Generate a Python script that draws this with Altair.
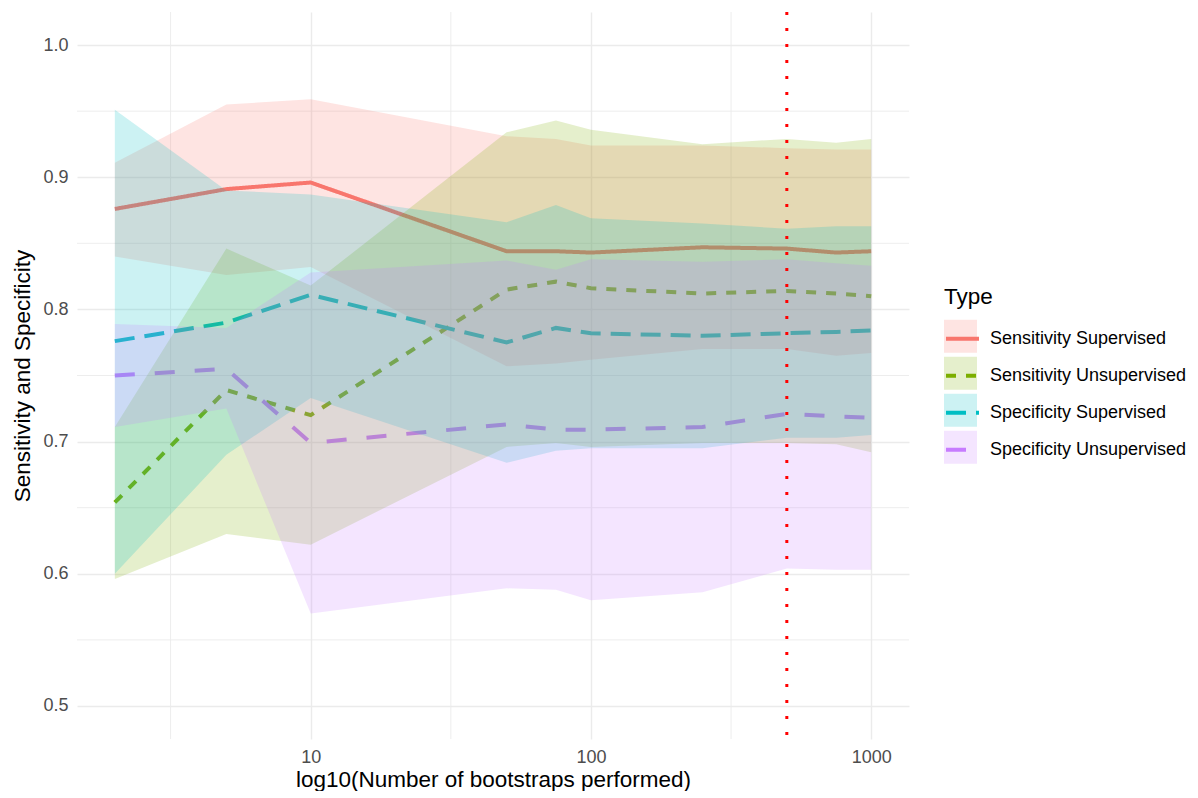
import altair as alt
import pandas as pd

# ---- data ----
boots = [2, 5, 10, 50, 75, 100, 250, 500, 750, 1000]
types = ["Sensitivity Supervised", "Sensitivity Unsupervised",
         "Specificity Supervised", "Specificity Unsupervised"]

sens_sup = [0.876, 0.891, 0.896, 0.844, 0.844, 0.843, 0.847, 0.846, 0.843, 0.844]
sens_sup_lo = [0.840, 0.826, 0.832, 0.757, 0.759, 0.762, 0.770, 0.770, 0.765, 0.767]
sens_sup_hi = [0.911, 0.955, 0.959, 0.931, 0.929, 0.924, 0.924, 0.922, 0.921, 0.921]

sens_unsup = [0.654, 0.739, 0.720, 0.815, 0.821, 0.816, 0.812, 0.814, 0.812, 0.810]
sens_unsup_lo = [0.596, 0.630, 0.622, 0.696, 0.699, 0.696, 0.699, 0.699, 0.698, 0.692]
sens_unsup_hi = [0.711, 0.846, 0.818, 0.934, 0.943, 0.936, 0.925, 0.929, 0.926, 0.929]

spec_sup = [0.776, 0.790, 0.811, 0.775, 0.786, 0.782, 0.780, 0.782, 0.783, 0.784]
spec_sup_lo = [0.600, 0.690, 0.733, 0.684, 0.693, 0.695, 0.695, 0.703, 0.703, 0.705]
spec_sup_hi = [0.951, 0.890, 0.887, 0.866, 0.879, 0.869, 0.865, 0.861, 0.863, 0.863]

spec_unsup = [0.750, 0.755, 0.699, 0.713, 0.709, 0.709, 0.711, 0.721, 0.719, 0.718]
spec_unsup_lo = [0.711, 0.725, 0.570, 0.589, 0.588, 0.580, 0.586, 0.604, 0.603, 0.603]
spec_unsup_hi = [0.789, 0.786, 0.828, 0.837, 0.830, 0.838, 0.836, 0.838, 0.835, 0.833]

chosen_boots = [500]
y_ticks = [0.5, 0.6, 0.7, 0.8, 0.9, 1.0]
y_minor = [0.55, 0.65, 0.75, 0.85, 0.95]
x_ticks = [10, 100, 1000]
x_minor = [10 ** 0.5, 10 ** 1.5, 10 ** 2.5]

colors = ["#F8766D", "#7CAE00", "#00BFC4", "#C77CFF"]
dashes = [[1, 0], [10, 10], [20, 10], [20, 20]]

series = [(sens_sup, sens_sup_lo, sens_sup_hi),
          (sens_unsup, sens_unsup_lo, sens_unsup_hi),
          (spec_sup, spec_sup_lo, spec_sup_hi),
          (spec_unsup, spec_unsup_lo, spec_unsup_hi)]

rows = []
for t, (m, lo, hi) in zip(types, series):
    for b, mv, lv, hv in zip(boots, m, lo, hi):
        rows.append({"Type": t, "boots": b, "mean": mv, "lo": lv, "hi": hv})
df = pd.DataFrame(rows)

FONT = "Liberation Sans"
x_dom = [10 ** 0.16608, 10 ** 3.13495]
y_dom = [0.475, 1.025]

xs = alt.Scale(type="log", domain=x_dom, nice=False, zero=False)
ys = alt.Scale(domain=y_dom, nice=False, zero=False)

x_enc = alt.X("boots:Q", scale=xs,
              axis=alt.Axis(values=x_ticks, format="d",
                            title="log10(Number of bootstraps performed)",
                            grid=True, labelPadding=9, titlePadding=2))
y_enc = alt.Y("mean:Q", scale=ys,
              axis=alt.Axis(values=y_ticks, format=".1f",
                            title="Sensitivity and Specificity",
                            grid=True, labelPadding=9, titlePadding=8))

LEG_X = 867
LEG_Y = 274
ROW_H = 36.7


def legend(**kw):
    base = dict(title="Type", orient="none", legendX=LEG_X, legendY=LEG_Y,
                symbolSize=1089, labelOffset=9, titlePadding=12, rowPadding=0,
                clipHeight=ROW_H, labelLimit=400)
    base.update(kw)
    return alt.Legend(**base)


minor_x = alt.Chart(pd.DataFrame({"v": x_minor})).mark_rule(
    color="#EBEBEB", strokeWidth=0.9).encode(x=alt.X("v:Q", scale=xs))
minor_y = alt.Chart(pd.DataFrame({"v": y_minor})).mark_rule(
    color="#EBEBEB", strokeWidth=0.9).encode(y=alt.Y("v:Q", scale=ys))

lines = alt.Chart(df).mark_line(strokeWidth=4, strokeCap="butt").encode(
    x=x_enc,
    y=y_enc,
    stroke=alt.Stroke("Type:N", scale=alt.Scale(range=colors),
                      legend=legend(symbolType="stroke", symbolStrokeWidth=4)),
    strokeDash=alt.StrokeDash("Type:N", scale=alt.Scale(range=dashes),
                              legend=legend(symbolType="stroke", symbolStrokeWidth=4)),
)

# key backgrounds: a second legend with no title and no label text, under the first
areas = alt.Chart(df).mark_area(opacity=0.2).encode(
    x=alt.X("boots:Q", scale=xs),
    y=alt.Y("lo:Q", scale=ys),
    y2="hi:Q",
    fill=alt.Fill("Type:N", scale=alt.Scale(domain=types, range=colors),
                  legend=legend(title=None, legendY=LEG_Y + 32,
                                symbolType="square", symbolOpacity=0.2,
                                symbolStrokeWidth=0,
                                symbolStrokeColor="transparent",
                                labelExpr="''")),
)

vline = alt.Chart(pd.DataFrame({"b": chosen_boots})).mark_rule(
    color="#FF0000", strokeWidth=3, strokeDash=[3, 13]).encode(
    x=alt.X("b:Q", scale=xs))

chart = alt.layer(minor_x, minor_y, lines, areas, vline).resolve_scale(
    fill="independent", stroke="independent", strokeDash="independent"
).properties(
    width=832, height=727,
    padding={"left": 3, "top": 2, "right": 0, "bottom": 0},
).configure_view(stroke=None).configure_axis(
    domain=False, ticks=False, tickSize=0,
    gridColor="#EBEBEB", gridWidth=1.4,
    labelFont=FONT, labelFontSize=18, labelColor="#4D4D4D",
    titleFont=FONT, titleFontSize=22.5, titleFontWeight="normal", titleColor="#000000",
).configure_legend(
    labelFont=FONT, labelFontSize=18, labelColor="#000000",
    titleFont=FONT, titleFontSize=22.5, titleFontWeight="normal", titleColor="#000000",
)

chart.save("out.html", embed_options={"renderer": "svg", "actions": False})
